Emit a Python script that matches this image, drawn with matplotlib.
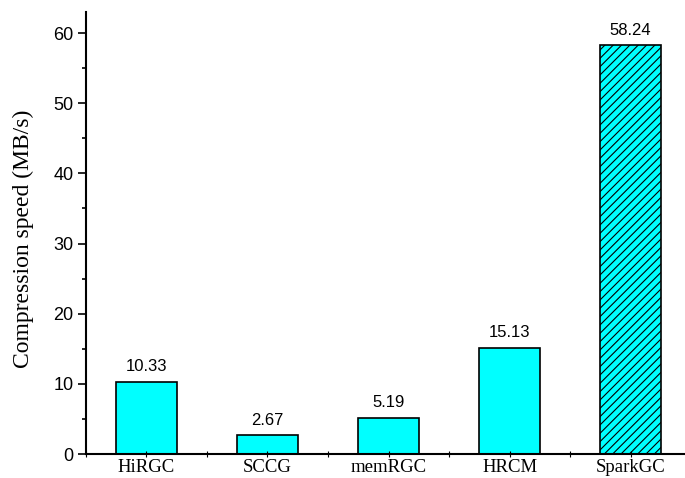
import numpy as np
import matplotlib.pyplot as plt
from matplotlib.ticker import MultipleLocator

methods = ['HiRGC', 'SCCG', 'memRGC', 'HRCM', 'SparkGC']
speeds = [10.33, 2.67, 5.19, 15.13, 58.24]
hatches = ['', '', '', '', '////']

plt.rcParams['hatch.linewidth'] = 0.8

fig = plt.figure(figsize=(6.85, 4.78), dpi=100)
ax = fig.add_axes([0.1255, 0.0502, 0.8745, 0.9248])

x = np.arange(len(methods))
bars = ax.bar(x, speeds, width=0.5, color='#00ffff', edgecolor='black', linewidth=1.2)
for bar, h in zip(bars, hatches):
    bar.set_hatch(h)

# value labels above bars
for xi, v in zip(x, speeds):
    ax.text(xi, v + 1.1, f'{v:.2f}', ha='center', va='bottom',
            fontsize=12, family='Liberation Sans')

ax.set_xlim(-0.5, 4.45)
ax.set_ylim(0, 63)
ax.set_xticks(x)
ax.set_xticklabels(methods, family='Liberation Serif', fontsize=13.5)
ax.xaxis.set_minor_locator(MultipleLocator(0.5))
ax.yaxis.set_major_locator(MultipleLocator(10))
ax.yaxis.set_minor_locator(MultipleLocator(5))
for lbl in ax.get_yticklabels():
    lbl.set_family('Liberation Sans')
    lbl.set_fontsize(13)

ax.tick_params(axis='y', which='major', direction='out', length=6, width=1.2, pad=3)
ax.tick_params(axis='y', which='minor', direction='out', length=3, width=1.2)
ax.tick_params(axis='x', which='both', direction='inout', length=5, width=0.8, pad=1)

ax.spines['top'].set_visible(False)
ax.spines['right'].set_visible(False)
ax.spines['left'].set_linewidth(1.5)
ax.spines['bottom'].set_linewidth(1.5)

ax.set_ylabel('Compression speed (MB/s)', family='Liberation Serif', fontsize=17)
ax.yaxis.set_label_coords(-0.087, 0.487)

fig.savefig('out.png', dpi=100)
